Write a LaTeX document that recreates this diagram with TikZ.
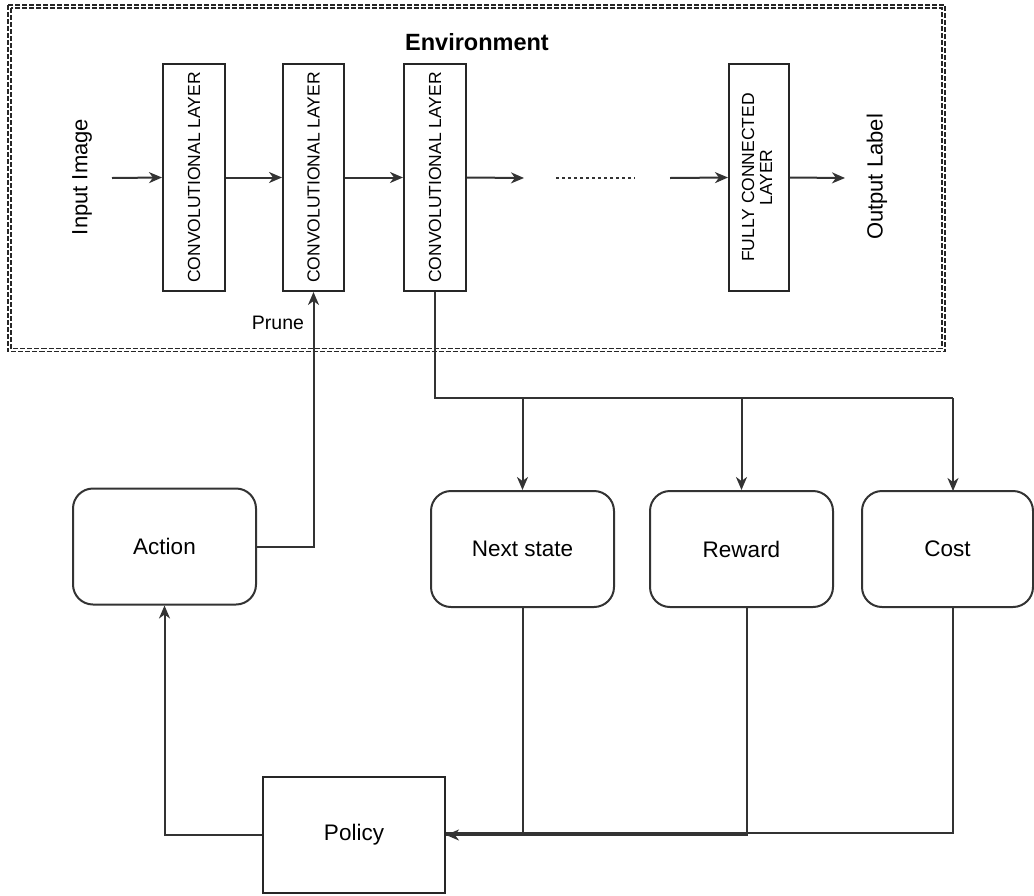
\documentclass[tikz,border=0pt]{standalone}
\usepackage{fontspec}
\setmainfont{Liberation Sans}
\usetikzlibrary{arrows.meta}
\begin{document}
\begin{tikzpicture}[x=1pt,y=-1pt,
  line/.style={draw=black!80,line width=2pt},
  arr/.style={line,-{Stealth[length=13pt,width=11pt,inset=4pt]}},
  envline/.style={draw=black!85,line width=1.4pt,dash pattern=on 5pt off 2pt},
  layerbox/.style={draw=black!85,line width=2pt,minimum height=227pt,inner sep=0pt,font=\fontsize{17.5}{20}\selectfont},
  rbox/.style={draw=black!80,line width=2pt,rounded corners=20pt,minimum width=183pt,minimum height=116pt,inner sep=0pt,font=\fontsize{22.5}{26}\selectfont},
  lab/.style={font=\fontsize{22}{26}\selectfont,inner sep=0pt},
]
\useasboundingbox (0,0) rectangle (1034,895);
% environment frame (double dashed)
\draw[envline] (8,5) rectangle (945,351.5);
\draw[envline] (11,8) rectangle (942,348.5);
\node[font=\fontsize{23.5}{26}\selectfont\bfseries,inner sep=0pt] (envt) at (477,42) {Environment};
% layers
\node[layerbox,minimum width=62pt] (c1) at (194,177.5) {\rotatebox{90}{CONVOLUTIONAL LAYER}};
\node[layerbox,minimum width=61pt] (c2) at (313.5,177.5) {\rotatebox{90}{CONVOLUTIONAL LAYER}};
\node[layerbox,minimum width=62pt] (c3) at (435,177.5) {\rotatebox{90}{CONVOLUTIONAL LAYER}};
\node[layerbox,minimum width=60pt] (fc) at (759,177.5) {\rotatebox{90}{\begin{tabular}{@{}c@{}}FULLY CONNECTED\\[-2pt] LAYER\end{tabular}}};
\node[lab,rotate=90] (inimg) at (82,177) {Input Image};
\node[lab,rotate=90] (outl) at (877,177) {Output Label};
\node[font=\fontsize{19.5}{22}\selectfont,inner sep=0pt] (prune) at (278,323) {Prune};
% coordinates
\coordinate (inS) at (112,178);
\coordinate (c3E) at (524,178);
\coordinate (d1) at (556,178);
\coordinate (d2) at (635,178);
\coordinate (fcS) at (670,178);
\coordinate (outE) at (845,178);
% row of boxes
\node[rbox] (act) at (164.5,546.5) {Action};
\node[rbox] (ns) at (522.5,549) {Next state};
\node[rbox] (rw) at (741.5,549) {Reward};
\node[rbox,minimum width=171pt] (cost) at (947.5,549) {Cost};
\node[draw=black!85,line width=2pt,minimum width=182pt,minimum height=116pt,inner sep=0pt,
  font=\fontsize{22.5}{26}\selectfont] (pol) at (354,835) {Policy};
\coordinate (bns) at (522.5,398);
\coordinate (brw) at (741.5,398);
\coordinate (bco) at (953,398);
\coordinate (cotop) at (953,491);
\coordinate (cobot) at (953,607);
\coordinate (rwbot) at (747,607);
% top chain
\draw[arr] (inS) -- (c1.west);
\draw[arr] (c1.east) -- (c2.west);
\draw[arr] (c2.east) -- (c3.west);
\draw[arr] (c3.east) -- (c3E);
\draw[line,dash pattern=on 3pt off 3pt,line width=1.5pt] (d1) -- (d2);
\draw[arr] (fcS) -- (fc.west);
\draw[arr] (fc.east) -- (outE);
% action to pruned layer
\draw[arr] (act.east) -| (c2.south);
% state distribution
\draw[line] (c3.south) |- (bco);
\draw[arr] (bns) -- (ns.north);
\draw[arr] (brw) -- (rw.north);
\draw[arr] (bco) -- (cotop);
% feedback to policy
\draw[line] (rwbot) |- (pol.east);
\draw[line] (cobot) |- ([yshift=2pt]pol.east);
\draw[arr] (ns.south) |- (pol.east);
\draw[arr] (pol.west) -| (act.south);
\end{tikzpicture}
\end{document}
